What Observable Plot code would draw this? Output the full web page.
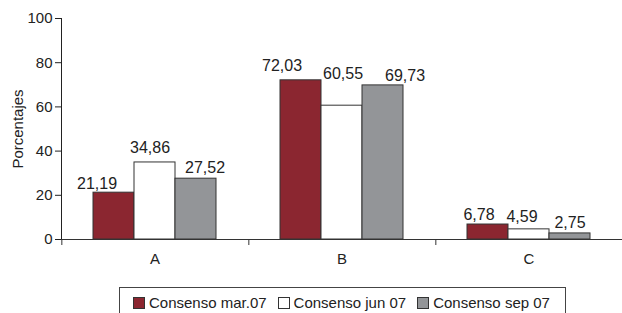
<!DOCTYPE html>
<html>
<head>
<meta charset="utf-8">
<script src="https://cdn.jsdelivr.net/npm/d3@7"></script>
<script src="https://cdn.jsdelivr.net/npm/@observablehq/plot@0.6"></script>
<style>
  html, body { margin: 0; padding: 0; background: #fff; }
  body { width: 622px; height: 313px; overflow: hidden; font-family: "Liberation Sans", Arial, Helvetica, sans-serif; color: #222; }
  #legend {
    position: absolute; left: 119px; top: 287px; width: 447px; height: 30px;
    border: 1px solid #444; box-sizing: border-box;
    display: flex; align-items: flex-start; padding-left: 13px; padding-top: 7px;
    font-size: 15px; line-height: 15px; white-space: nowrap;
  }
  .item { display: flex; align-items: center; margin-right: 11px; }
  .sw { width: 10px; height: 10px; border: 1px solid #333; margin-right: 4px; }
</style>
</head>
<body>
<div id="chart"></div>
<div id="legend"></div>
<script>
const categories = ["A", "B", "C"];
const series = ["Consenso mar.07", "Consenso jun 07", "Consenso sep 07"];
const marValues = [21.19, 72.03, 6.78];
const junValues = [34.86, 60.55, 4.59];
const sepValues = [27.52, 69.73, 2.75];
const yTicks = [0, 20, 40, 60, 80, 100];
const colors = ["#8b2630", "#ffffff", "#939598"];

// label nudges (layout only, in pixels): [dx, extra lift] by category then series
const labelNudges = {
  A: [[-17, 0], [-5, 5], [9, 2]],
  B: [[-19, 5], [1, 23], [22, 0]],
  C: [[-9, 1], [-7, 3], [0, 1]]
};

const seriesValues = [marValues, junValues, sepValues];
const rows = categories.flatMap((c, i) => series.map((s, j) => ({category: c, series: s, value: seriesValues[j][i], si: j})));
const fmt = v => d3.format(".2f")(v).replace(".", ",");

const width = 622, marginLeft = 60, marginRight = 0;
const paddingOuter = 0.757;
const facetW = (width - marginLeft - marginRight) / categories.length;
const step = facetW / (series.length + 2 * paddingOuter);
const edgeDx = -(paddingOuter * step + step / 2);

const labelMarks = rows.map(r => {
  const [ndx, lift] = labelNudges[r.category][r.si];
  return Plot.text([r], {fx: "category", x: "series", y: "value", text: d => fmt(d.value),
    lineAnchor: "bottom", dx: ndx, dy: -4 - lift, fill: "#222", fontSize: 16});
});

const chart = Plot.plot({
  width, height: 283,
  marginLeft, marginRight, marginTop: 18, marginBottom: 44,
  style: {fontFamily: "'Liberation Sans', Arial, Helvetica, sans-serif", fontSize: "15px", color: "#222", background: "white"},
  fx: {domain: categories, padding: 0, label: null, axis: "bottom", tickSize: 0, tickPadding: 14},
  x: {domain: series, paddingInner: 0, paddingOuter, axis: null},
  y: {domain: [0, 100], ticks: yTicks, tickSize: 6, tickPadding: 3, line: true, label: "Porcentajes", labelArrow: "none", labelAnchor: "center", labelOffset: 49},
  color: {domain: series, range: colors},
  marks: [
    Plot.barY(rows, {fx: "category", x: "series", y: "value", fill: "series", stroke: "#333", strokeWidth: 1}),
    ...labelMarks,
    Plot.ruleY([0], {stroke: "#333"}),
    Plot.ruleX(categories, {fx: d => d, x: () => series[0], y1: () => 0, y2: () => 0, insetBottom: -6, dx: edgeDx, stroke: "#333"})
  ]
});
document.getElementById("chart").appendChild(chart);

const legend = document.getElementById("legend");
series.forEach((s, j) => {
  const item = document.createElement("div");
  item.className = "item";
  const sw = document.createElement("div");
  sw.className = "sw";
  sw.style.background = colors[j];
  const label = document.createElement("span");
  label.textContent = s;
  item.appendChild(sw);
  item.appendChild(label);
  legend.appendChild(item);
});
</script>
</body>
</html>
